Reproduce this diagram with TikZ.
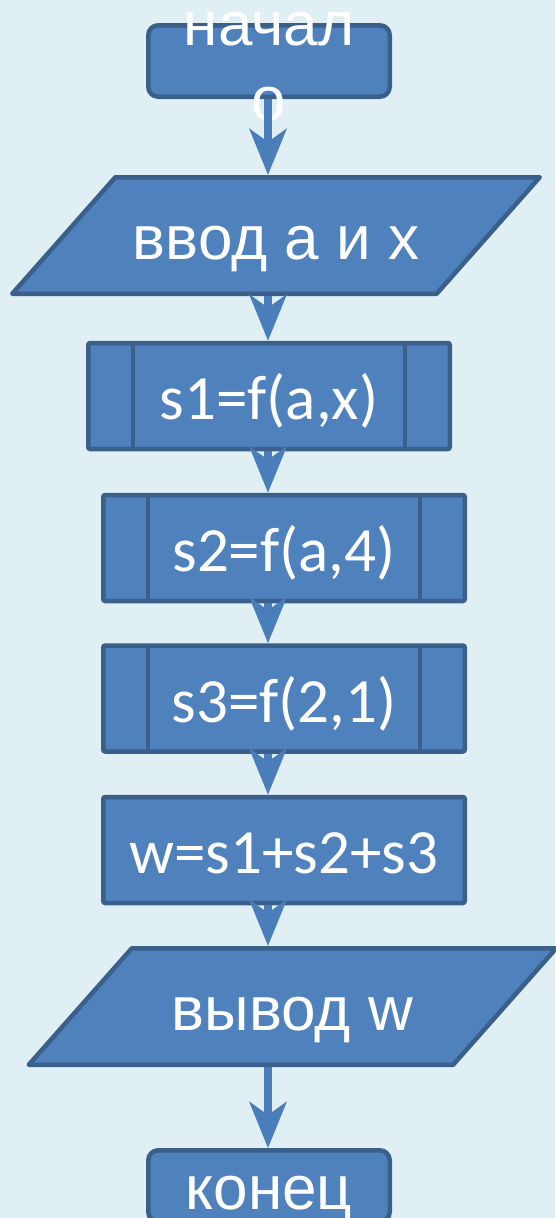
\documentclass[tikz,border=0pt]{standalone}
\usepackage{fontspec}
\setmainfont{Liberation Sans}
\newfontfamily\calibfont{Carlito}
\usepackage{tikz}
\usetikzlibrary{arrows.meta, shapes.geometric}
\usepackage{xcolor}
\definecolor{bgblue}{HTML}{DFEFF4}
\definecolor{boxfill}{HTML}{4F81BD}
\definecolor{boxline}{HTML}{3A5F8B}
\definecolor{flowblue}{HTML}{4A7EBB}

\begin{document}
\begin{tikzpicture}[x=1pt, y=-1pt,
  blk/.style={draw=boxline, line width=4.5pt, fill=boxfill, text=white, inner sep=0pt, text height=47pt, text depth=0pt, font=\fontsize{62}{75}\selectfont},
  term/.style={blk, rounded corners=10pt, minimum width=241.5pt, minimum height=71.5pt},
  io/.style={blk, trapezium, trapezium left angle=48.5, trapezium right angle=131.5, trapezium stretches body=true, inner ysep=34.75pt, minimum width=527.5pt, minimum height=116.5pt, line join=round},
  assign/.style={blk, rounded corners=2pt, minimum width=361.5pt, minimum height=106pt, font=\calibfont\fontsize{63}{75}\selectfont},
  proc/.style={assign, path picture={
      \draw[boxline, line width=4.5pt] ([xshift=44.75pt]path picture bounding box.north west) -- ([xshift=44.75pt]path picture bounding box.south west);
      \draw[boxline, line width=4.5pt] ([xshift=-44.75pt]path picture bounding box.north east) -- ([xshift=-44.75pt]path picture bounding box.south east);}},
  flow/.style={flowblue, line width=7.5pt, -{Stealth[length=46pt, width=37pt, inset=13pt]}}
]
\fill[bgblue] (0,0) rectangle (555,1218);
\useasboundingbox (0,0) rectangle (555,1218);
\coordinate (spine) at (268,0);

\node[term, text height=0pt, text depth=0pt] (start) at (269,61)
  {\raisebox{-59pt}[0pt][0pt]{\begin{tabular}[b]{@{}c@{}}начал\\о\end{tabular}}};
\node[io] (input) at (276,235.5) {ввод а и х};
\node[proc] (sub1) at (269,396) {s1=f(a,x)};
\node[proc] (sub2) at (284,548) {s2=f(a,4)};
\node[proc] (sub3) at (284,698.5) {s3=f(2,1)};
\node[assign] (sum) at (284,850) {w=s1+s2+s3};
\node[io] (output) at (292.5,1006.5) {вывод w};
\node[term] (stop) at (269,1186) {конец};

\draw[flow] (start.south -| spine) -- (input.north -| spine);
\draw[flow] (input.south -| spine) -- (sub1.north -| spine);
\draw[flow] (sub1.south -| spine) -- (sub2.north -| spine);
\draw[flow] (sub2.south -| spine) -- (sub3.north -| spine);
\draw[flow] (sub3.south -| spine) -- (sum.north -| spine);
\draw[flow] (sum.south -| spine) -- (output.north -| spine);
\draw[flow] (output.south -| spine) -- (stop.north -| spine);
\end{tikzpicture}
\end{document}
